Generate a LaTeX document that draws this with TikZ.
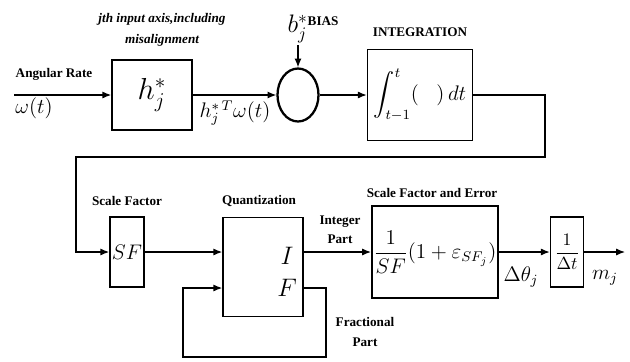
\documentclass[tikz,border=0pt]{standalone}
\usepackage{amsmath,amssymb}
\usepackage{fontspec}
\setmainfont{Liberation Serif}
\usetikzlibrary{arrows.meta,positioning,shapes.geometric}

\begin{document}
\begin{tikzpicture}[x=.2mm,y=-.2mm,
      block/.style={draw,line width=.9pt,inner sep=1pt},
      junction/.style={draw,ellipse,line width=1.3pt,inner sep=0pt,
        minimum width=8.2mm,minimum height=10.6mm},
      wire/.style={line width=.7pt,-{Latex[length=5pt,width=4pt]}},
      lbl/.style={font=\fontsize{7.5}{11}\selectfont\bfseries,align=center,inner sep=1pt}
    ]
    \useasboundingbox (0,0) rectangle (630,361);

    % upper row
    \node[block,minimum width=16mm,minimum height=14mm] (h) at (152,95) {\LARGE$h_j^*$};
    \node[junction] (sum) at (298,95) {};
    \node[block,minimum width=21mm,minimum height=18.2mm] (int) at (420,95)
      {\large$\displaystyle\int_{t-1}^{t}(\;\;\;)\,dt$};

    \coordinate (in) at (14,95);
    \coordinate (biasin) at (298,45);
    \coordinate (turn) at (545,95);
    \coordinate (back) at (76,157);

    % lower row
    \node[block,minimum width=6.8mm,minimum height=14mm] (sf) at (127,252) {\large$SF$};
    \node[block,minimum width=16mm,minimum height=19.8mm] (quant) at (263,267) {};
    \node (I) at (287,256) {\Large$I$};
    \node (F) at (287,288) {\Large$F$};
    \node[block,minimum width=24.2mm,minimum height=18.4mm] (sfe) at (435,252)
      {\large$\dfrac{1}{SF}(1+\varepsilon_{SF_j})$};
    \node[block,minimum width=6.6mm,minimum height=14mm] (dt) at (567,252) {$\dfrac{1}{\Delta t}$};

    \coordinate (out) at (625,252);
    \coordinate (frac1) at (326,357);
    \coordinate (frac2) at (183,357);

    % connectors
    \draw[wire] (in) -- (h);
    \draw[wire] (h) -- (sum);
    \draw[wire] (biasin) -- (sum);
    \draw[wire] (sum) -- (int);
    \draw[wire] (int) -- (turn) -- (turn |- back) -- (back) -- (back |- sf) -- (sf);
    \draw[wire] (sf) -- (sf -| quant.west);
    \draw[wire] (quant.east |- sfe) -- (sfe);
    \draw[wire] (quant.east |- F) -- (frac1 |- F) -- (frac1) -- (frac2) -- (frac2 |- F) -- (quant.west |- F);
    \draw[wire] (sfe) -- (dt);
    \draw[wire] (dt) -- (out);

    % labels
    \node[lbl,font=\fontsize{7.5}{12}\selectfont\bfseries\itshape] (axis) at (162,30)
      {jth input axis,including\\misalignment};
    \node[lbl] (rate) at (54,74) {Angular Rate};
    \node (omega) at (34,108) {\large$\omega(t)$};
    \node (hw) at (235,113) {\large$h_j^{*\,T}\omega(t)$};
    \node (bias) at (313,29) {\Large$b_j^*$\raisebox{.6ex}{\fontsize{7.5}{9}\selectfont\bfseries BIAS}};
    \node[lbl] (intlbl) at (420,32) {INTEGRATION};
    \node[lbl] (sflbl) at (127,201) {Scale Factor};
    \node[lbl] (qlbl) at (259,201) {Quantization};
    \node[lbl] (intpart) at (340,230) {Integer\\Part};
    \node[lbl] (fracpart) at (365,332) {Fractional\\Part};
    \node[lbl] (sfelbl) at (432,193) {Scale Factor and Error};
    \node (dtheta) at (521,277) {\large$\Delta\theta_j$};
    \node (m) at (605,278) {\large$m_j$};
  \end{tikzpicture}
\end{document}
